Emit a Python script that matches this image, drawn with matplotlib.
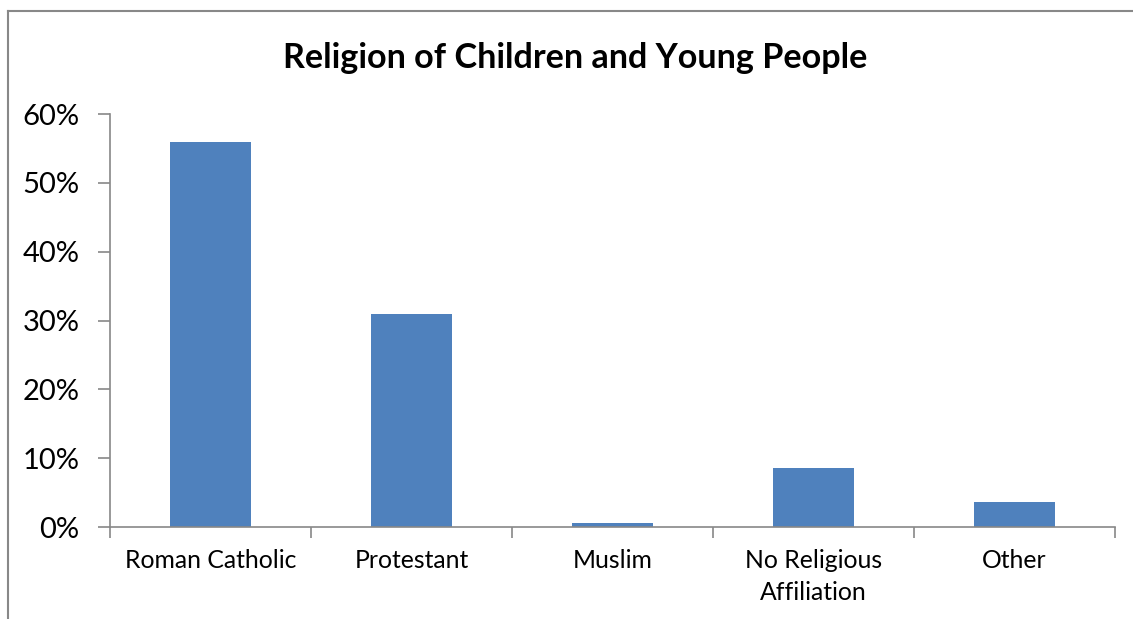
import numpy as np
import matplotlib
matplotlib.use("Agg")
import matplotlib.pyplot as plt
from matplotlib.lines import Line2D
from matplotlib.ticker import FuncFormatter

categories = ["Roman Catholic", "Protestant", "Muslim", "No Religious\nAffiliation", "Other"]
values = [56.0, 31.0, 0.6, 8.6, 3.6]
yticks = [0, 10, 20, 30, 40, 50, 60]

plt.rcParams['font.family'] = ['Lato', 'DejaVu Sans']

fig = plt.figure(figsize=(11.33, 6.19), dpi=100)
ax = fig.add_axes([0.0971, 0.1486, 0.8870, 0.6672])

x = np.arange(len(categories))
ax.bar(x, values, width=0.4, color="#4f81bd")

ax.set_xlim(-0.5, len(categories) - 0.5)
ax.set_ylim(0, 60)
ax.set_yticks(yticks)
ax.yaxis.set_major_formatter(FuncFormatter(lambda v, p: "%d%%" % v))
ax.set_xticks(x)
ax.set_xticklabels(categories, fontsize=17.8, linespacing=1.45)
ax.set_xticks(np.arange(len(categories) + 1) - 0.5, minor=True)
ax.tick_params(axis="x", which="major", length=0, pad=16)
ax.tick_params(axis="x", which="minor", length=8, color="#888888", width=1.2)
ax.tick_params(axis="y", length=9, color="#888888", width=1.2, labelsize=21, pad=13)

for s in ["top", "right"]:
    ax.spines[s].set_visible(False)
for s in ["left", "bottom"]:
    ax.spines[s].set_color("#888888")
    ax.spines[s].set_linewidth(1.2)

fig.text(0.508, 0.907, "Religion of Children and Young People", ha="center", va="center",
         fontsize=24.6, fontweight="bold")

# outer chart frame (only left and top edges visible)
fig.add_artist(Line2D([8 / 1133, 8 / 1133], [0, 1 - 11 / 619], color="#888888", lw=1.5))
fig.add_artist(Line2D([8 / 1133, 1], [1 - 11 / 619, 1 - 11 / 619], color="#888888", lw=1.5))

fig.savefig("out.png", dpi=100)
